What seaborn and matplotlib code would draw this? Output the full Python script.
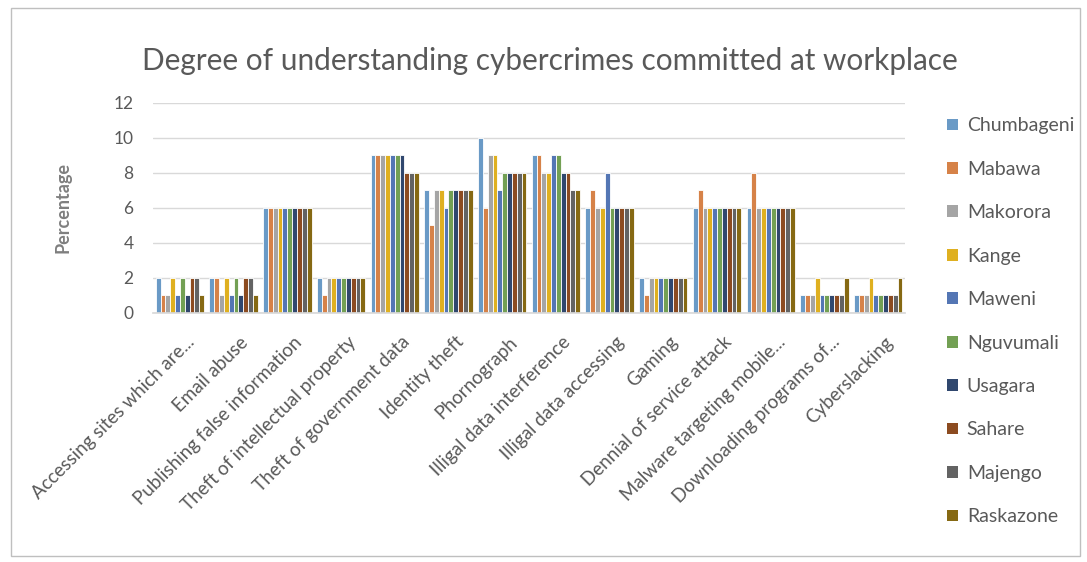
import matplotlib
matplotlib.use("Agg")
import matplotlib.pyplot as plt
import matplotlib.transforms as mtransforms
import seaborn as sns
import pandas as pd
from matplotlib.patches import Rectangle

categories = [
    "Accessing sites which are...",
    "Email abuse",
    "Publishing false information",
    "Theft of intellectual property",
    "Theft of government data",
    "Identity theft",
    "Phornograph",
    "Illigal data interference",
    "Illigal data accessing",
    "Gaming",
    "Dennial of service attack",
    "Malware targeting mobile...",
    "Downloading programs of...",
    "Cyberslacking",
]

chumbageni = [2, 2, 6, 2, 9, 7, 10, 9, 6, 2, 6, 6, 1, 1]
mabawa     = [1, 2, 6, 1, 9, 5, 6, 9, 7, 1, 7, 8, 1, 1]
makorora   = [1, 1, 6, 2, 9, 7, 9, 8, 6, 2, 6, 6, 1, 1]
kange      = [2, 2, 6, 2, 9, 7, 9, 8, 6, 2, 6, 6, 2, 2]
maweni     = [1, 1, 6, 2, 9, 6, 7, 9, 8, 2, 6, 6, 1, 1]
nguvumali  = [2, 2, 6, 2, 9, 7, 8, 9, 6, 2, 6, 6, 1, 1]
usagara    = [1, 1, 6, 2, 9, 7, 8, 8, 6, 2, 6, 6, 1, 1]
sahare     = [2, 2, 6, 2, 8, 7, 8, 8, 6, 2, 6, 6, 1, 1]
majengo    = [2, 2, 6, 2, 8, 7, 8, 7, 6, 2, 6, 6, 1, 1]
raskazone  = [1, 1, 6, 2, 8, 7, 8, 7, 6, 2, 6, 6, 2, 2]

locations = ["Chumbageni", "Mabawa", "Makorora", "Kange", "Maweni",
             "Nguvumali", "Usagara", "Sahare", "Majengo", "Raskazone"]
series = [chumbageni, mabawa, makorora, kange, maweni,
          nguvumali, usagara, sahare, majengo, raskazone]
colors = ["#5B9BD5", "#ED7D31", "#A5A5A5", "#FFC000", "#4472C4",
          "#70AD47", "#264478", "#9E480E", "#636363", "#997300"]

rows = []
for name, vals in zip(locations, series):
    for cat, v in zip(categories, vals):
        rows.append({"Crime": cat, "Location": name, "Value": v})
df = pd.DataFrame(rows)

sns.set_theme(style="white")
plt.rcParams["font.family"] = ["Lato", "DejaVu Sans"]
text_col = "#595959"

fig = plt.figure(figsize=(10.87, 5.62), dpi=100)
fig.patches.append(Rectangle((11 / 1087, 1 - 556 / 562), 1069 / 1087, 548 / 562,
                             transform=fig.transFigure, fill=False,
                             edgecolor="#BFBFBF", linewidth=1.0))

ax = fig.add_axes([0.1408, 0.4431, 0.6918, 0.3737])
sns.barplot(data=df, x="Crime", y="Value", hue="Location", order=categories,
            hue_order=locations, palette=colors, width=0.9, errorbar=None,
            edgecolor="white", linewidth=0.6, ax=ax)

ax.set_xlim(-0.5, len(categories) - 0.5)
ax.set_ylim(0, 12)
ax.set_yticks(range(0, 13, 2))
ax.grid(axis="y", color="#D9D9D9", linewidth=1.0)
ax.grid(axis="x", visible=False)
ax.set_axisbelow(True)
for s in ["top", "right", "left"]:
    ax.spines[s].set_visible(False)
ax.spines["bottom"].set_color("#D9D9D9")
ax.tick_params(axis="both", length=0, colors=text_col, labelsize=12.5)
ax.tick_params(axis="y", pad=14)
ax.tick_params(axis="x", pad=9)
ax.set_xticks(range(len(categories)))
ax.set_xticklabels(categories, rotation=45, ha="right", rotation_mode="anchor",
                   fontsize=13.5, color=text_col)
shift = mtransforms.ScaledTranslation(6 / 100, -8 / 100, fig.dpi_scale_trans)
for lbl in ax.get_xticklabels():
    lbl.set_transform(lbl.get_transform() + shift)
ax.set_xlabel("")
ax.set_ylabel("Percentage", fontsize=13, fontweight="bold", color="#7F7F7F",
              labelpad=30)

ax.set_title("Degree of understanding cybercrimes committed at workplace",
             fontsize=21.4, color=text_col, x=0.528, y=1.115)

leg = ax.legend(loc="upper left", bbox_to_anchor=(1.033, 1.015), frameon=False,
                fontsize=14, labelcolor=text_col, handlelength=0.55,
                handleheight=0.55, handletextpad=0.45, labelspacing=1.36)
for h in leg.legend_handles:
    h.set_edgecolor("none")

fig.savefig("out.png", dpi=100)
